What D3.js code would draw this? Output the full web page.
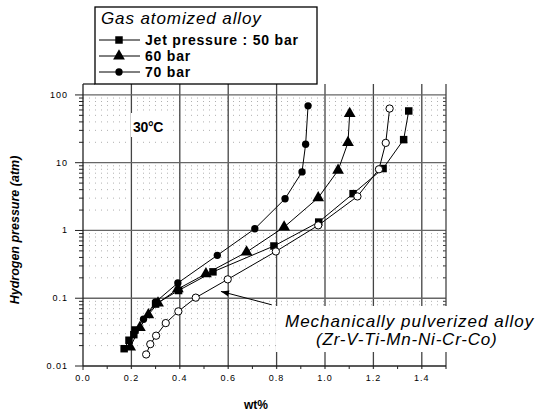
<!DOCTYPE html>
<html><head><meta charset="utf-8">
<script src="https://cdn.jsdelivr.net/npm/d3@7"></script>
<style>body{margin:0;background:#fff}text{font-family:Arial,"Liberation Sans",sans-serif}</style>
</head><body><svg id="c" width="537" height="415"></svg>
<script>
// ---- data ----
const xTickValues = [0, 0.2, 0.4, 0.6, 0.8, 1.0, 1.2, 1.4];
const xTickLabels = ["0.0", "0.2", "0.4", "0.6", "0.8", "1.0", "1.2", "1.4"];
const yTickValues = [0.01, 0.1, 1, 10, 100];
const yTickLabels = ["0.01", "0.1", "1", "10", "100"];
// [wt%, pressure atm]
const bar50 = [[0.17,0.018],[0.19,0.024],[0.21,0.029],[0.215,0.034],[0.30,0.082],[0.395,0.13],[0.537,0.245],[0.789,0.59],[0.974,1.33],[1.116,3.49],[1.24,8.2],[1.325,21.9],[1.346,58]];
const bar60 = [[0.195,0.019],[0.235,0.037],[0.27,0.057],[0.31,0.085],[0.392,0.137],[0.508,0.229],[0.676,0.48],[0.831,1.12],[0.972,3.04],[1.054,7.7],[1.095,19.8],[1.102,53]];
const bar70 = [[0.25,0.049],[0.30,0.088],[0.392,0.168],[0.555,0.43],[0.71,1.06],[0.835,2.94],[0.905,7.3],[0.92,18.7],[0.93,69]];
const pulverized = [[0.261,0.0148],[0.278,0.021],[0.302,0.028],[0.342,0.043],[0.394,0.064],[0.466,0.102],[0.598,0.19],[0.797,0.49],[0.972,1.19],[1.134,3.18],[1.223,8.0],[1.251,19.6],[1.267,63]];
const legendTitle = "Gas atomized alloy";
const legendLabels = ["Jet pressure : 50 bar", "60 bar", "70 bar"];

// ---- chart ----
const svg = d3.select("#c");
const x = d3.scaleLinear().domain([0, 1.5]).range([83, 446]);
const y = d3.scaleLog().domain([0.01, 145]).range([366, 84]);
const X0 = x(0), X1 = x(1.5), Y0 = y(0.01), Y1 = y(145);

// minor horizontal dotted grid
const minorY = [];
for (let d = 0.01; d < 100; d *= 10) for (let k = 2; k <= 9; k++) minorY.push(d * k);
svg.append("g").selectAll("line").data(minorY).join("line")
  .attr("x1", X0).attr("x2", X1).attr("y1", d => y(d)).attr("y2", d => y(d))
  .attr("stroke", "#b0b0b0").attr("stroke-width", 1).attr("stroke-dasharray", "1,5");

// major grid
svg.append("g").selectAll("line").data(xTickValues.slice(1)).join("line")
  .attr("x1", d => x(d)).attr("x2", d => x(d)).attr("y1", Y1).attr("y2", Y0 + 3)
  .attr("stroke", "#444").attr("stroke-width", 1.3);
svg.append("g").selectAll("line").data(yTickValues.slice(1)).join("line")
  .attr("x1", X0).attr("x2", X1).attr("y1", d => y(d)).attr("y2", d => y(d))
  .attr("stroke", "#666").attr("stroke-width", 1.3);

// frame
svg.append("line").attr("x1", X0).attr("x2", X0).attr("y1", Y1).attr("y2", Y0).attr("stroke", "#222").attr("stroke-width", 1.3);
svg.append("line").attr("x1", X1).attr("x2", X1).attr("y1", Y1).attr("y2", Y0 + 3).attr("stroke", "#444").attr("stroke-width", 1.3);
svg.append("line").attr("x1", X0).attr("x2", X1).attr("y1", Y0).attr("y2", Y0).attr("stroke", "#222").attr("stroke-width", 1.3);

// left axis ticks
svg.append("g").selectAll("line").data(minorY).join("line")
  .attr("x1", X0 - 4).attr("x2", X0).attr("y1", d => y(d)).attr("y2", d => y(d)).attr("stroke", "#222");
svg.append("g").selectAll("line").data(yTickValues).join("line")
  .attr("x1", X0 - 8).attr("x2", X0).attr("y1", d => y(d)).attr("y2", d => y(d)).attr("stroke", "#222");
// right axis ticks
svg.append("g").selectAll("line").data(minorY).join("line")
  .attr("x1", X1 - 3).attr("x2", X1).attr("y1", d => y(d)).attr("y2", d => y(d)).attr("stroke", "#444");
// bottom ticks
const minorX = [0.1, 0.3, 0.5, 0.7, 0.9, 1.1, 1.3];
svg.append("g").selectAll("line").data(minorX).join("line")
  .attr("x1", d => x(d)).attr("x2", d => x(d)).attr("y1", Y0).attr("y2", Y0 + 3).attr("stroke", "#222");
svg.append("line").attr("x1", X0).attr("x2", X0).attr("y1", Y0).attr("y2", Y0 + 4).attr("stroke", "#222");

// tick labels
svg.append("g").selectAll("text").data(yTickValues).join("text")
  .attr("x", 68).attr("y", d => y(d) + 3).attr("text-anchor", "end")
  .attr("font-size", 9).attr("letter-spacing", 1).text((d, i) => yTickLabels[i]);
svg.append("g").selectAll("text").data(xTickValues).join("text")
  .attr("x", d => x(d)).attr("y", Y0 + 15).attr("text-anchor", "middle")
  .attr("font-size", 9).attr("letter-spacing", 1).text((d, i) => xTickLabels[i]);

// axis titles
svg.append("text").attr("transform", `translate(19,${(Y0 + Y1) / 2 + 5}) rotate(-90)`)
  .attr("text-anchor", "middle").attr("font-size", 12.5).attr("font-weight", "bold").attr("font-style", "italic")
  .text("Hydrogen pressure (atm)");
svg.append("text").attr("x", 256).attr("y", 409).attr("text-anchor", "middle")
  .attr("font-size", 12).attr("font-weight", "bold").text("wt%");

// 30°C label
svg.append("rect").attr("x", 131).attr("y", 113).attr("width", 40).attr("height", 24).attr("fill", "#fff");
svg.append("text").attr("x", 133).attr("y", 132).attr("font-size", 14).attr("font-weight", "bold").attr("letter-spacing", -0.3).text("30°C");

// annotation
svg.append("rect").attr("x", 276).attr("y", 306).attr("width", 261).attr("height", 46).attr("fill", "#fff");
svg.append("text").attr("x", 285).attr("y", 327).attr("font-size", 17).attr("font-style", "italic").attr("letter-spacing", 1)
  .text("Mechanically pulverized alloy");
svg.append("text").attr("x", 316).attr("y", 345).attr("font-size", 17).attr("font-style", "italic").attr("letter-spacing", 0.8)
  .text("(Zr-V-Ti-Mn-Ni-Cr-Co)");
const ax0 = [x(0.78), y(0.08)], ax1 = [x(0.57), y(0.126)];
svg.append("line").attr("x1", ax0[0]).attr("y1", ax0[1]).attr("x2", ax1[0]).attr("y2", ax1[1]).attr("stroke", "#000").attr("stroke-width", 1);
{
  const ang = Math.atan2(ax1[1] - ax0[1], ax1[0] - ax0[0]);
  const L = 8, W = 3;
  const bx = ax1[0] - L * Math.cos(ang), by = ax1[1] - L * Math.sin(ang);
  const px = -Math.sin(ang) * W, py = Math.cos(ang) * W;
  svg.append("path").attr("d", `M${ax1[0]},${ax1[1]}L${bx + px},${by + py}L${bx - px},${by - py}Z`).attr("fill", "#000");
}

// data lines
const line = d3.line().x(d => x(d[0])).y(d => y(d[1]));
[bar50, bar60, bar70, pulverized].forEach(s => {
  svg.append("path").attr("d", line(s)).attr("fill", "none").attr("stroke", "#000").attr("stroke-width", 1);
});
// markers
const sq = d3.symbol().type(d3.symbolSquare).size(56);
const tri = d3.symbol().type(d3.symbolTriangle).size(60);
const cir = d3.symbol().type(d3.symbolCircle).size(42);
svg.append("g").selectAll("path").data(bar50).join("path").attr("d", sq)
  .attr("transform", d => `translate(${x(d[0])},${y(d[1])})`).attr("fill", "#000");
svg.append("g").selectAll("path").data(bar60).join("path").attr("d", tri)
  .attr("transform", d => `translate(${x(d[0])},${y(d[1])})`).attr("fill", "#000");
svg.append("g").selectAll("path").data(bar70).join("path").attr("d", cir)
  .attr("transform", d => `translate(${x(d[0])},${y(d[1])})`).attr("fill", "#000");
svg.append("g").selectAll("path").data(pulverized).join("path").attr("d", cir)
  .attr("transform", d => `translate(${x(d[0])},${y(d[1])})`).attr("fill", "#fff").attr("stroke", "#000").attr("stroke-width", 1);

// legend
svg.append("line").attr("x1", X0).attr("x2", 95).attr("y1", Y1).attr("y2", Y1).attr("stroke", "#222").attr("stroke-width", 1.3);
svg.append("rect").attr("x", 95).attr("y", 7).attr("width", 222).attr("height", 77)
  .attr("fill", "#fff").attr("stroke", "#000").attr("stroke-width", 1.3);
svg.append("text").attr("x", 101).attr("y", 24).attr("font-size", 17).attr("font-style", "italic").attr("letter-spacing", 0.9)
  .text(legendTitle);
const legSyms = [sq, tri, cir];
const legY = [40, 56, 72];
legendLabels.forEach((lab, i) => {
  const g = svg.append("g").attr("transform", `translate(0,${legY[i]})`);
  g.append("line").attr("x1", 99).attr("x2", 140).attr("y1", 0).attr("y2", 0).attr("stroke", "#000");
  g.append("path").attr("d", legSyms[i]).attr("transform", "translate(119,0)").attr("fill", "#000");
  g.append("text").attr("x", 145).attr("y", 5).attr("font-size", 14).attr("font-weight", "bold").attr("letter-spacing", 0.8).text(lab);
});
</script></body></html>
